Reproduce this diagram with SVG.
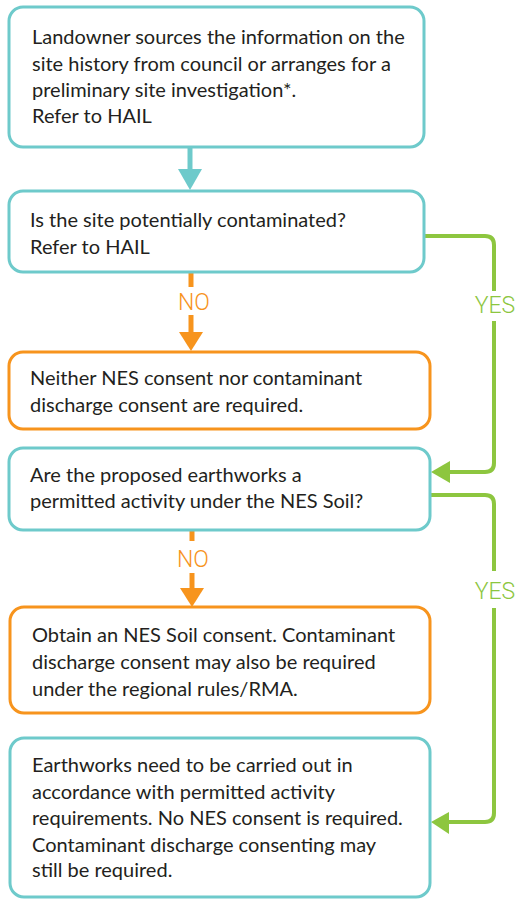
<svg xmlns="http://www.w3.org/2000/svg" width="515" height="899" viewBox="0 0 515 899">
  <defs>
    <style>
      .box { fill: #ffffff; stroke-width: 3; }
      .teal { stroke: #6ECACB; }
      .orange { stroke: #F7941D; }
      .txt { font-family: Lato, "Open Sans", "Liberation Sans", sans-serif; font-size: 20px; fill: #231F20; }
      .lbl { font-family: Roboto, "Liberation Sans", sans-serif; font-weight: 300; font-size: 23px; text-anchor: middle; }
      .no { fill: #F7941D; }
      .yes { fill: #8DC63F; }
      .stem { fill: none; stroke-width: 5; }
      .green { fill: none; stroke: #8DC63F; stroke-width: 4; }
    </style>
  </defs>

  <rect width="515" height="899" fill="#ffffff"/>

  <!-- connectors -->
  <g id="connectors">
    <!-- step 1 to step 2 -->
    <line class="stem teal" x1="190" y1="147" x2="190" y2="171"/>
    <polygon points="178,169 202,169 190,190" fill="#6ECACB"/>

    <!-- NO from question 1 -->
    <line class="stem orange" x1="191" y1="273" x2="191" y2="287"/>
    <text class="lbl no" x="194" y="310">NO</text>
    <line class="stem orange" x1="191" y1="315" x2="191" y2="334"/>
    <polygon points="179,332 203,332 191,351" fill="#F7941D"/>

    <!-- YES from question 1 -->
    <path class="green" d="M424,236 H485 Q494,236 494,245 V291"/>
    <text class="lbl yes" x="495" y="313">YES</text>
    <path class="green" d="M494,321 V463 Q494,472 485,472 H448"/>
    <polygon points="431,472 450,461 450,483" fill="#8DC63F"/>

    <!-- NO from question 2 -->
    <line class="stem orange" x1="192" y1="530" x2="192" y2="541"/>
    <text class="lbl no" x="193" y="567">NO</text>
    <line class="stem orange" x1="192" y1="573" x2="192" y2="590"/>
    <polygon points="180,588 204,588 192,607" fill="#F7941D"/>

    <!-- YES from question 2 -->
    <path class="green" d="M430,495 H485 Q494,495 494,504 V571"/>
    <text class="lbl yes" x="495" y="599">YES</text>
    <path class="green" d="M494,608 V813 Q494,822 485,822 H447"/>
    <polygon points="431,822 449,812 449,834" fill="#8DC63F"/>
  </g>

  <g id="step-source-info">
    <rect class="box teal" x="9" y="7" width="415" height="140" rx="14"/>
    <text class="txt" x="32" y="44">Landowner sources the information on the</text>
    <text class="txt" x="32" y="70.5">site history from council or arranges for a</text>
    <text class="txt" x="32" y="97">preliminary site investigation*.</text>
    <text class="txt" x="32" y="123">Refer to HAIL</text>
  </g>

  <g id="question-contaminated">
    <rect class="box teal" x="9" y="191" width="415" height="81" rx="14"/>
    <text class="txt" x="30" y="227">Is the site potentially contaminated?</text>
    <text class="txt" x="30" y="254">Refer to HAIL</text>
  </g>

  <g id="result-no-consent">
    <rect class="box orange" x="9" y="352" width="421" height="77" rx="14"/>
    <text class="txt" x="30" y="385">Neither NES consent nor contaminant</text>
    <text class="txt" x="30" y="412">discharge consent are required.</text>
  </g>

  <g id="question-permitted">
    <rect class="box teal" x="9" y="448" width="421" height="82" rx="14"/>
    <text class="txt" x="30" y="482">Are the proposed earthworks a</text>
    <text class="txt" x="30" y="508">permitted activity under the NES Soil?</text>
  </g>

  <g id="result-obtain-consent">
    <rect class="box orange" x="10" y="607" width="420" height="106" rx="14"/>
    <text class="txt" x="32" y="642">Obtain an NES Soil consent. Contaminant</text>
    <text class="txt" x="32" y="669">discharge consent may also be required</text>
    <text class="txt" x="32" y="695.5">under the regional rules/RMA.</text>
  </g>

  <g id="result-permitted">
    <rect class="box teal" x="10" y="738" width="420" height="159" rx="14"/>
    <text class="txt" x="32" y="772">Earthworks need to be carried out in</text>
    <text class="txt" x="32" y="799">accordance with permitted activity</text>
    <text class="txt" x="32" y="824.5">requirements. No NES consent is required.</text>
    <text class="txt" x="32" y="852">Contaminant discharge consenting may</text>
    <text class="txt" x="32" y="877">still be required.</text>
  </g>
</svg>
